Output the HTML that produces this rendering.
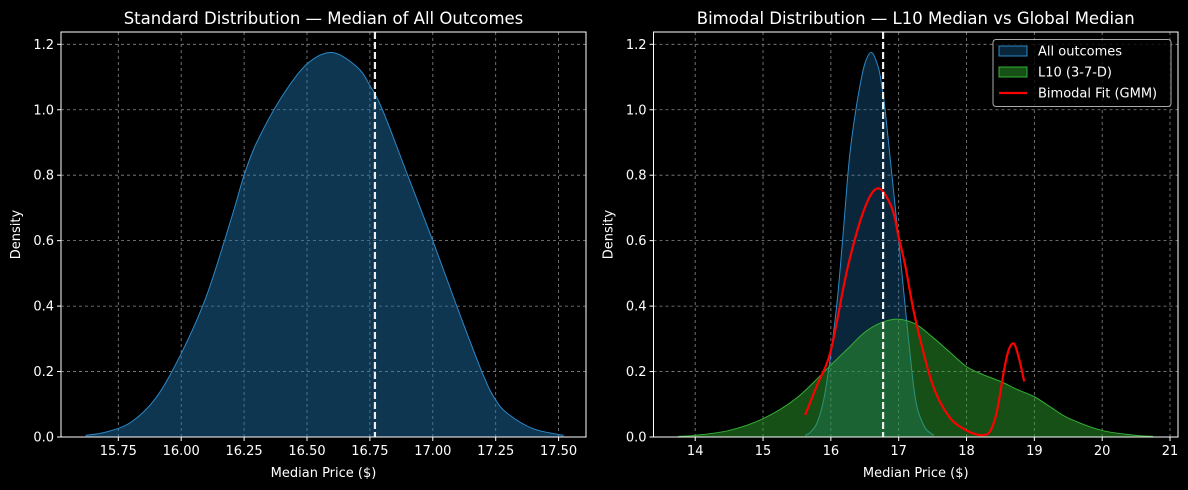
<!DOCTYPE html>
<html><head><meta charset="utf-8"><style>
body{margin:0;background:#000;}
svg{display:block;font-family:"DejaVu Sans","Liberation Sans",sans-serif;}
</style></head><body>
<svg id="chart" width="1188" height="490" viewBox="0 0 1188 490">
<rect width="1188" height="490" fill="#000"/>
</svg>
<script>
const allX=[15.62,15.7,15.8,15.9,16.0,16.1,16.2,16.25,16.3,16.4,16.5,16.6,16.7,16.75,16.8,16.9,17.0,17.1,17.2,17.25,17.3,17.4,17.52];
const allY=[0.005,0.015,0.045,0.12,0.255,0.43,0.67,0.80,0.90,1.04,1.14,1.175,1.13,1.074,1.0,0.80,0.60,0.39,0.19,0.113,0.07,0.025,0.005];
const l10X=[13.75,14.0,14.5,15.0,15.5,16.0,16.25,16.5,16.75,17.0,17.25,17.5,17.75,18.0,18.25,18.5,18.75,19.0,19.25,19.5,20.0,20.5,20.75];
const l10Y=[0.002,0.005,0.02,0.056,0.12,0.22,0.27,0.32,0.35,0.36,0.345,0.305,0.26,0.215,0.19,0.17,0.145,0.123,0.09,0.058,0.02,0.005,0.002];
const gmmX=[15.62,15.8,16.0,16.25,16.5,16.7,16.9,17.0,17.1,17.25,17.5,17.75,18.0,18.15,18.25,18.35,18.45,18.55,18.62,18.7,18.78,18.85];
const gmmY=[0.067,0.16,0.265,0.52,0.70,0.76,0.70,0.61,0.52,0.357,0.16,0.06,0.02,0.008,0.006,0.018,0.08,0.2,0.265,0.285,0.235,0.17];
const globalMedian=16.77;
const yTicks=[0,0.2,0.4,0.6,0.8,1.0,1.2];
const leftXTicks=[15.75,16.0,16.25,16.5,16.75,17.0,17.25,17.5];
const rightXTicks=[14,15,16,17,18,19,20,21];

const svg=document.getElementById('chart');
const NS='http://www.w3.org/2000/svg';
function mk(tag,attrs,parent){const e=document.createElementNS(NS,tag);for(const k in attrs)e.setAttribute(k,attrs[k]);(parent||svg).appendChild(e);return e;}
function smooth(P){
  let d='M'+P[0][0].toFixed(2)+','+P[0][1].toFixed(2);
  for(let i=0;i<P.length-1;i++){
    const p0=P[Math.max(0,i-1)],p1=P[i],p2=P[i+1],p3=P[Math.min(P.length-1,i+2)];
    const c1=[p1[0]+(p2[0]-p0[0])/6,p1[1]+(p2[1]-p0[1])/6];
    const c2=[p2[0]-(p3[0]-p1[0])/6,p2[1]-(p3[1]-p1[1])/6];
    d+=' C'+c1[0].toFixed(2)+','+c1[1].toFixed(2)+' '+c2[0].toFixed(2)+','+c2[1].toFixed(2)+' '+p2[0].toFixed(2)+','+p2[1].toFixed(2);
  }
  return d;
}

function panel(o){
  const g=mk('g',{});
  
  
  const xs=v=>o.x0+(v-o.xv0)*o.xk;
  const ys=v=>o.yb-v*o.yk;
  o.xticks.forEach(t=>{const l=mk('line',{x1:xs(t),x2:xs(t),y1:o.top,y2:o.yb,stroke:'#888','stroke-width':0.8,'stroke-dasharray':'3,3'},g);});
  yTicks.forEach(t=>{const l=mk('line',{x1:o.left,x2:o.right,y1:ys(t),y2:ys(t),stroke:'#888','stroke-width':0.8,'stroke-dasharray':'3,3'},g);});
  function area(X,Y,fill,stroke,name){
    const P=X.map((x,i)=>[xs(x),ys(Y[i])]);
    const c=smooth(P);
    const d=c+' L'+xs(X[X.length-1])+','+ys(0)+' L'+xs(X[0])+','+ys(0)+' Z';
    const p=mk('path',{d:d,fill:fill,stroke:'none'},g);
    const l=mk('path',{d:c,fill:'none',stroke:stroke,'stroke-width':1},g);
  }
  o.series.forEach(s=>{
    if(s.type==='area')area(s.x,s.y,s.fill,s.stroke,s.name);
    else{const P=s.x.map((x,i)=>[xs(x),ys(s.y[i])]);
      const p=mk('path',{d:smooth(P),fill:'none',stroke:'#ff0000','stroke-width':2.2,'stroke-linejoin':'round'},g);}
  });
  const ml=mk('line',{x1:xs(globalMedian),x2:xs(globalMedian),y1:o.top,y2:o.yb,stroke:'#eee','stroke-width':2.2,'stroke-dasharray':'7,3'},g);
  
  const fr=mk('rect',{x:o.left,y:o.top,width:o.right-o.left,height:o.yb-o.top,fill:'none',stroke:'#fff','stroke-width':1},g);
  
  o.xticks.forEach(t=>{mk('line',{x1:xs(t),x2:xs(t),y1:o.yb,y2:o.yb+4,stroke:'#fff'},g);
    const tx=mk('text',{x:xs(t),y:o.yb+18,fill:'#fff','font-size':13,'text-anchor':'middle'},g);tx.textContent=o.fmt(t);});
  yTicks.forEach(t=>{mk('line',{x1:o.left-4,x2:o.left,y1:ys(t),y2:ys(t),stroke:'#fff'},g);
    const tx=mk('text',{x:o.left-7,y:ys(t)+4.5,fill:'#fff','font-size':13,'text-anchor':'end'},g);tx.textContent=t.toFixed(1);});
  const ti=mk('text',{x:(o.left+o.right)/2,y:24,fill:'#fff','font-size':16.5,'text-anchor':'middle'},g);ti.textContent=o.title;
  const xl=mk('text',{x:(o.left+o.right)/2,y:477,fill:'#fff','font-size':13,'text-anchor':'middle'},g);xl.textContent='Median Price ($)';
  const yl=mk('text',{x:0,y:0,fill:'#fff','font-size':13,'text-anchor':'middle',transform:'translate('+(o.left-41)+','+((o.top+o.yb)/2)+') rotate(-90)'},g);yl.textContent='Density';
}
const yk=(437-44.3)/1.2;
panel({name:'standard-distribution-panel',left:61,right:586,top:32,yb:437,x0:118.3,xv0:15.75,xk:251.6,yk:yk,xticks:leftXTicks,fmt:t=>t.toFixed(2),
  title:'Standard Distribution — Median of All Outcomes',
  series:[{type:'area',x:allX,y:allY,fill:'rgba(31,119,180,0.45)',stroke:'#2a88c8',name:'all-outcomes'}]});
panel({name:'bimodal-distribution-panel',left:653.5,right:1178,top:32,yb:437,x0:695.2,xv0:14,xk:67.83,yk:yk,xticks:rightXTicks,fmt:t=>String(t),
  title:'Bimodal Distribution — L10 Median vs Global Median',
  series:[{type:'area',x:allX,y:allY,fill:'rgba(31,119,180,0.32)',stroke:'#2a88c8',name:'all-outcomes'},
          {type:'area',x:l10X,y:l10Y,fill:'rgba(44,160,44,0.5)',stroke:'#35b035',name:'l10'},
          {type:'line',x:gmmX,y:gmmY,name:'bimodal-fit-line'}]});
const lg=mk('g',{});


mk('rect',{x:993,y:39.5,width:178,height:67,rx:3,fill:'rgba(0,0,0,0.8)',stroke:'#aaa','stroke-width':1},lg);
const items=[['All outcomes','area','rgba(31,119,180,0.32)','#2a88c8'],['L10 (3-7-D)','area','rgba(44,160,44,0.5)','#35b035'],['Bimodal Fit (GMM)','line','#f00','#f00']];
items.forEach((it,i)=>{const y=51+i*21;
  const e=mk('g',{},lg);
  if(it[1]==='area')mk('rect',{x:999,y:y-5,width:28,height:10,fill:it[2],stroke:it[3]},e);
  else mk('line',{x1:999,x2:1027,y1:y,y2:y,stroke:'#f00','stroke-width':2.2},e);
  const t=mk('text',{x:1038,y:y+4.5,fill:'#fff','font-size':13},e);t.textContent=it[0];});
</script>
</body></html>
